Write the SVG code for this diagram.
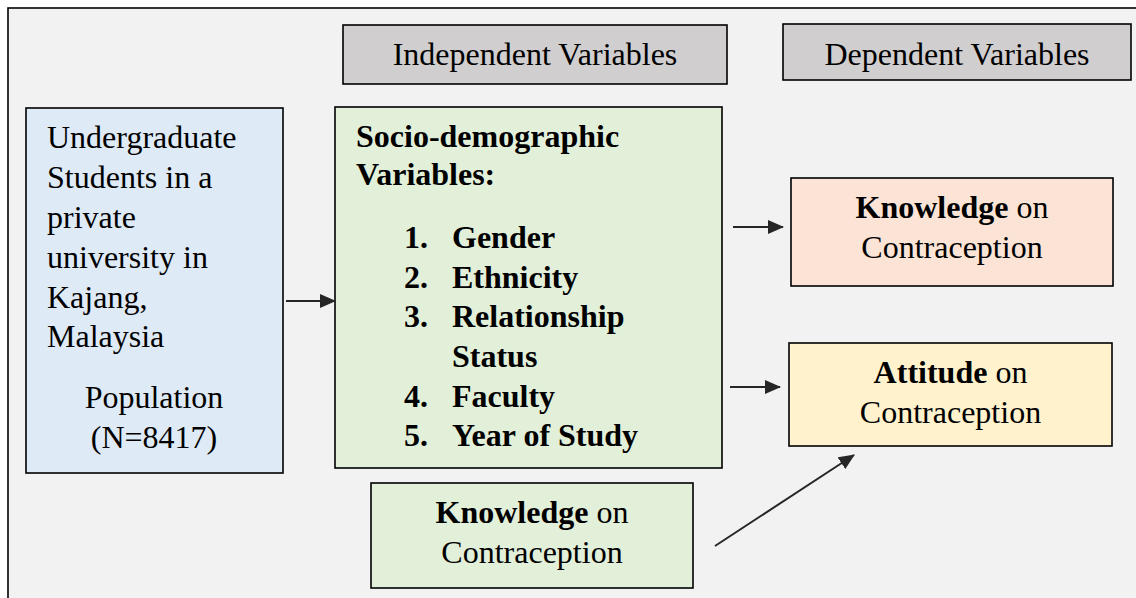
<svg xmlns="http://www.w3.org/2000/svg" width="1136" height="598" viewBox="0 0 1136 598">
  <defs>
    <style>
      text { font-family: "Liberation Serif", "Times New Roman", serif; font-size: 32px; fill: #000; }
      .b { font-weight: bold; }
      .mid { text-anchor: middle; }
      .box { stroke: #000; stroke-width: 1.6; }
      .head { fill: #d0cece; }
      .pop { fill: #deeaf6; }
      .ind { fill: #e2efd9; }
      .know { fill: #fbe4d5; }
      .att { fill: #fff2cc; }
      .link { stroke: #262626; stroke-width: 2; fill: none; marker-end: url(#arrow); }
    </style>
    <marker id="arrow" markerUnits="userSpaceOnUse" markerWidth="16" markerHeight="14" refX="15" refY="7" orient="auto">
      <path d="M0,0 L16,7 L0,14 Z" fill="#262626"/>
    </marker>
  </defs>

  <!-- canvas frame -->
  <rect x="0" y="0" width="1136" height="598" fill="#ffffff"/>
  <rect x="8" y="8" width="1140" height="600" fill="#f2f2f2" stroke="#000" stroke-width="1.6"/>

  <!-- column headers -->
  <g id="independent-header">
    <rect class="box head" x="343" y="25" width="384" height="59"/>
    <text class="mid" x="535" y="65">Independent Variables</text>
  </g>
  <g id="dependent-header">
    <rect class="box head" x="783" y="24" width="348" height="56"/>
    <text class="mid" x="957" y="65">Dependent Variables</text>
  </g>

  <!-- study population -->
  <g id="population">
    <rect class="box pop" x="26" y="108" width="257" height="365"/>
    <text x="47" y="148">Undergraduate</text>
    <text x="47" y="188">Students in a</text>
    <text x="47" y="228">private</text>
    <text x="47" y="268">university in</text>
    <text x="47" y="308">Kajang,</text>
    <text x="47" y="347">Malaysia</text>
    <text class="mid" x="154" y="408">Population</text>
    <text class="mid" x="154" y="448">(N=8417)</text>
  </g>

  <!-- socio-demographic variables -->
  <g id="socio-demographic">
    <rect class="box ind" x="335" y="107" width="387" height="361"/>
    <text class="b" x="356" y="147">Socio-demographic</text>
    <text class="b" x="356" y="185">Variables:</text>
    <text class="b" x="404" y="248">1.</text><text class="b" x="452" y="248">Gender</text>
    <text class="b" x="404" y="288">2.</text><text class="b" x="452" y="288">Ethnicity</text>
    <text class="b" x="404" y="327">3.</text><text class="b" x="452" y="327">Relationship</text>
    <text class="b" x="452" y="367">Status</text>
    <text class="b" x="404" y="407">4.</text><text class="b" x="452" y="407">Faculty</text>
    <text class="b" x="404" y="446">5.</text><text class="b" x="452" y="446">Year of Study</text>
  </g>

  <!-- knowledge as independent variable -->
  <g id="knowledge-independent">
    <rect class="box ind" x="371" y="483" width="322" height="105"/>
    <text class="mid" x="532" y="523"><tspan class="b">Knowledge</tspan> on</text>
    <text class="mid" x="532" y="563">Contraception</text>
  </g>

  <!-- outcomes -->
  <g id="knowledge-dependent">
    <rect class="box know" x="791" y="178" width="322" height="108"/>
    <text class="mid" x="952" y="218"><tspan class="b">Knowledge</tspan> on</text>
    <text class="mid" x="952" y="258">Contraception</text>
  </g>
  <g id="attitude-dependent">
    <rect class="box att" x="789" y="343" width="323" height="103"/>
    <text class="mid" x="950.5" y="383"><tspan class="b">Attitude</tspan> on</text>
    <text class="mid" x="950.5" y="423">Contraception</text>
  </g>

  <!-- connectors -->
  <g id="connectors">
    <line class="link" x1="286" y1="301" x2="335" y2="301"/>
    <line class="link" x1="733" y1="227" x2="783" y2="227"/>
    <line class="link" x1="730" y1="387" x2="780" y2="387"/>
    <line class="link" x1="715" y1="546" x2="854" y2="455"/>
  </g>
</svg>
